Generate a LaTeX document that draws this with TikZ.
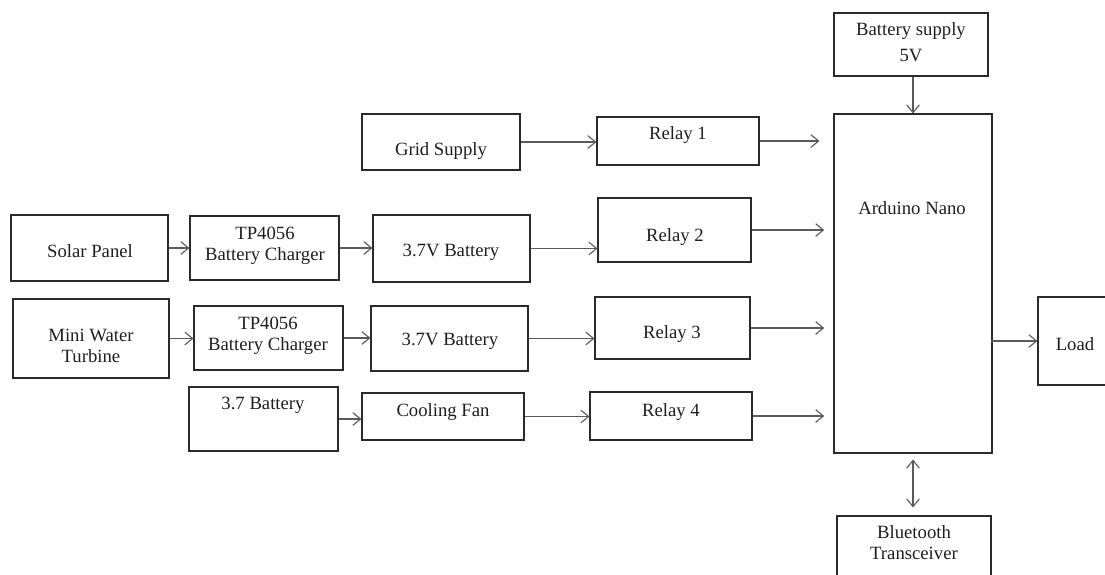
\documentclass[tikz,border=0pt]{standalone}
\usepackage{fontspec}
\setmainfont{Liberation Serif}
\usetikzlibrary{arrows.meta,fit,calc}
\definecolor{boxline}{HTML}{2A2A2A}
\definecolor{wire}{HTML}{5A5A5A}
\definecolor{ink}{HTML}{1E1E1E}

\begin{document}
\begin{tikzpicture}[x=0.025cm,y=-0.025cm,
    blk/.style={draw=boxline,line width=0.75pt,inner sep=0pt},
    txt/.style={text=ink,align=center,inner sep=0pt,font=\fontsize{13.3}{15}\selectfont},
    lbl/.style={txt,anchor=base},
    arr/.style={wire,line width=0.8pt,-{Straight Barb[length=5.5pt,width=9pt,line width=0.8pt]}},
    darr/.style={wire,line width=0.8pt,{Straight Barb[length=5.5pt,width=9pt,line width=0.8pt]}-{Straight Barb[length=5.5pt,width=9pt,line width=0.8pt]}}]
  \useasboundingbox (0,0) rectangle (1105,574);
  \clip (0,0) rectangle (1105,574);
  % controller column
  \node[blk,fit={(834,13) (988,76)}] (batt5) {};
  \node[txt] (batt5t) at (911,42) {Battery supply\\[3pt]5V};
  \node[blk,fit={(834,114) (992,453)}] (ard) {};
  \node[lbl] (ardt) at (912,214) {Arduino Nano};
  \node[blk,fit={(1038,297) (1116,385)}] (load) {};
  \node[lbl] (loadt) at (1075,350) {Load};
  \node[blk,fit={(837,516) (991,600)}] (bt) {};
  \node[txt] (btt) at (914,543) {Bluetooth\\Transceiver};
  % grid line
  \node[blk,fit={(362,114) (520,170)}] (grid) {};
  \node[lbl] (gridt) at (441,155) {Grid Supply};
  \node[blk,fit={(597,117) (759,165)}] (relayA) {};
  \node[lbl] (relayAt) at (678,139) {Relay 1};
  % solar line
  \node[blk,fit={(11,215) (168,281)}] (solar) {};
  \node[lbl] (solart) at (90,257) {Solar Panel};
  \node[blk,fit={(190,216) (339,280)}] (chgA) {};
  \node[txt] (chgAt) at (265,246) {TP4056\\Battery Charger};
  \node[blk,fit={(373,215) (530,282)}] (batA) {};
  \node[lbl] (batAt) at (451,256) {3.7V Battery};
  \node[blk,fit={(598,198) (751,262)}] (relayB) {};
  \node[lbl] (relayBt) at (675,241) {Relay 2};
  % water turbine line
  \node[blk,fit={(13,299) (169,378)}] (turb) {};
  \node[txt] (turbt) at (91,346) {Mini Water\\Turbine};
  \node[blk,fit={(194,306) (343,370)}] (chgB) {};
  \node[txt] (chgBt) at (268,336) {TP4056\\Battery Charger};
  \node[blk,fit={(371,306) (528,371)}] (batB) {};
  \node[lbl] (batBt) at (450,345) {3.7V Battery};
  \node[blk,fit={(595,297) (750,359)}] (relayC) {};
  \node[lbl] (relayCt) at (672,338) {Relay 3};
  % cooling line
  \node[blk,fit={(189,387) (338,451)}] (cell) {};
  \node[lbl] (cellt) at (263,409) {3.7 Battery};
  \node[blk,fit={(362,393) (524,440)}] (fan) {};
  \node[lbl] (fant) at (443,416) {Cooling Fan};
  \node[blk,fit={(590,392) (752,440)}] (relayD) {};
  \node[lbl] (relayDt) at (671,416) {Relay 4};
  % connectors
  \draw[arr] (grid.east) -- (grid.east -| relayA.west);
  \draw[arr] (solar.east) -- (solar.east -| chgA.west);
  \draw[arr] (chgA.east) -- (chgA.east -| batA.west);
  \draw[arr] (batA.east) -- (batA.east -| relayB.west);
  \draw[arr] (turb.east) -- (turb.east -| chgB.west);
  \draw[arr] (chgB.east) -- (chgB.east -| batB.west);
  \draw[arr] (batB.east) -- (batB.east -| relayC.west);
  \draw[arr] (cell.east) -- (cell.east -| fan.west);
  \draw[arr] (fan.east) -- (fan.east -| relayD.west);
  \draw[arr,shorten >=0.35cm] (relayA.east) -- (relayA.east -| ard.west);
  \draw[arr,shorten >=0.23cm] (relayB.east) -- (relayB.east -| ard.west);
  \draw[arr,shorten >=0.23cm] (relayC.east) -- (relayC.east -| ard.west);
  \draw[arr,shorten >=0.23cm] (relayD.east) -- (relayD.east -| ard.west);
  \draw[arr] (batt5.south -| ard.north) -- (ard.north);
  \draw[arr,shorten <=-0.05cm] (load.west -| ard.east) -- (load.west);
  \draw[darr,shorten <=0.15cm,shorten >=0.2cm] (ard.south) -- (ard.south |- bt.north);
\end{tikzpicture}
\end{document}
